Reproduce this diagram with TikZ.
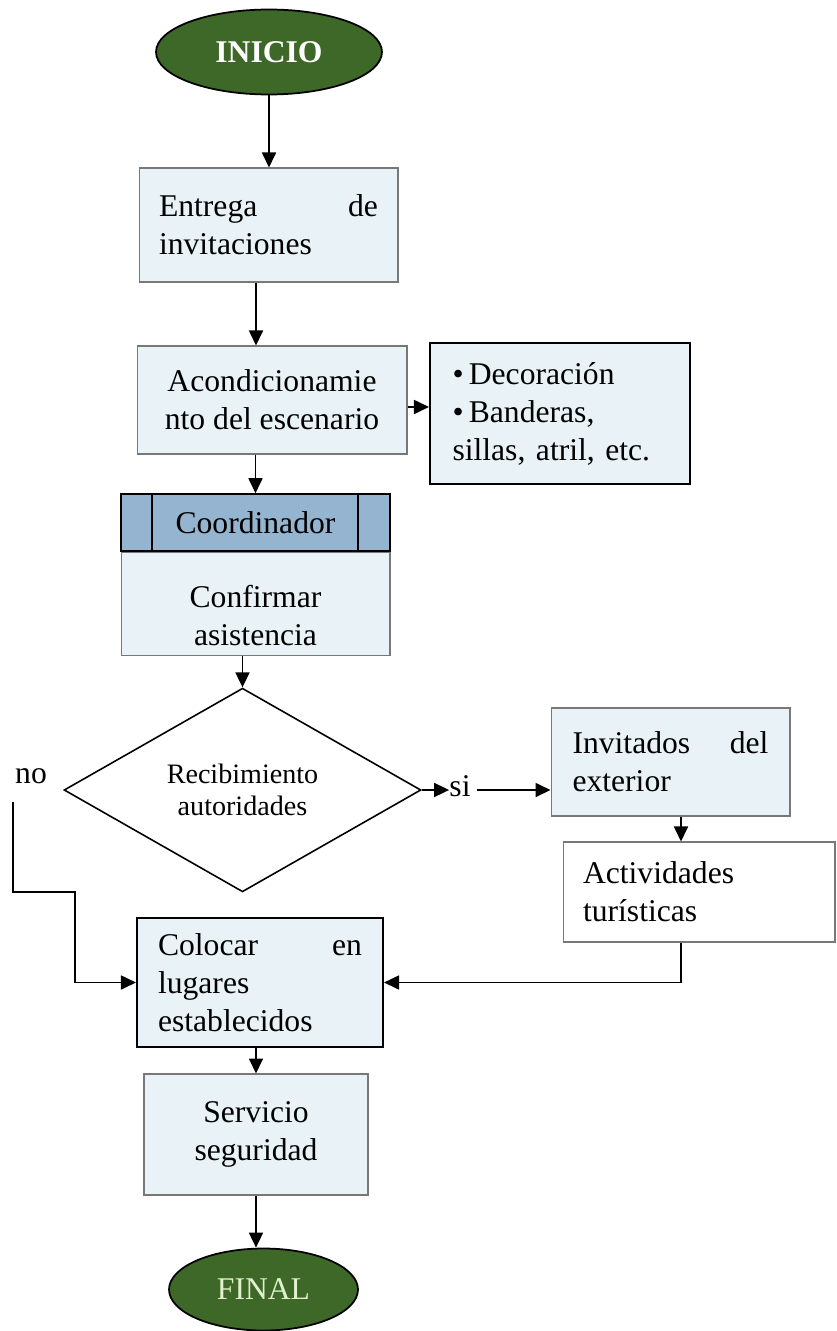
\documentclass[tikz,border=0pt]{standalone}
\usepackage{fontspec}
\setmainfont{Liberation Serif}
\usepackage{xcolor}
\usepackage{tikz}
\usetikzlibrary{positioning, shapes.geometric, arrows.meta}
\definecolor{fcGreen}{RGB}{62, 104, 40}
\definecolor{fcLight}{RGB}{233, 243, 247}
\definecolor{fcHead}{RGB}{148, 180, 207}
\definecolor{fcGray}{RGB}{120, 120, 120}
\definecolor{fcPale}{RGB}{225, 240, 205}
\newcommand{\fcgap}{\hskip 0pt plus 1filll}
\tikzset{
    base/.style={
        font=\fontsize{18}{21.6}\selectfont,
        align=center,
        inner sep=0pt
    },
    process/.style={
        base,
        rectangle,
        draw=fcGray,
        line width=0.6pt,
        fill=fcLight
    },
    strong/.style={
        process,
        draw=black,
        line width=1.2pt
    },
    terminal/.style={
        base,
        ellipse,
        draw=black,
        line width=1pt,
        fill=fcGreen,
        text=white
    },
    decision/.style={
        base,
        diamond,
        draw=black,
        line width=0.9pt,
        font=\fontsize{16}{18.5}\selectfont
    },
    flow/.style={
        -{Triangle[length=0.3cm, width=0.28cm]},
        line width=1pt,
        color=black
    },
    tag/.style={
        base
    }
}

\begin{document}
\begin{tikzpicture}[x=0.02cm, y=-0.02cm]
  \useasboundingbox (0,0) rectangle (836,1331);

  % Terminals
  \node[terminal, minimum width=4.52cm, minimum height=1.7cm, font=\bfseries\fontsize{18}{21.6}\selectfont] (inicio) at (269,52) {INICIO};
  \node[terminal, minimum width=3.78cm, minimum height=1.64cm, text=fcPale] (final) at (263.5,1289.5) {FINAL};

  % Main column
  \node[process, minimum width=5.18cm, minimum height=2.28cm, text width=4.38cm, align=left] (entrega) at (268.5,225) {Entrega\fcgap de\\invitaciones};
  \node[process, minimum width=5.4cm, minimum height=2.16cm] (acond) at (272,400) {Acondicionamie\\nto del escenario};
  \node[strong, minimum width=5.2cm, minimum height=2.82cm, text width=4.3cm, align=left] (deco) at (560,413.5) {\textbullet\,Decoración\\\textbullet\,Banderas,\\sillas, atril, etc.};

  % Coordinator
  \node[process, draw=black, line width=0.9pt, fill=fcHead, minimum width=5.38cm, minimum height=1.14cm] (coordhead) at (255.5,522.5) {Coordinador};
  \node[process, minimum width=5.38cm, minimum height=2.06cm, anchor=north] (confirmar) at (coordhead.south) {\rule{0pt}{0.9cm}Confirmar\\asistencia};
  \draw[line width=0.9pt] ([xshift=0.64cm]coordhead.north west) -- ([xshift=0.64cm]coordhead.south west);
  \draw[line width=0.9pt] ([xshift=-0.66cm]coordhead.north east) -- ([xshift=-0.66cm]coordhead.south east);

  % Decision
  \node[decision, minimum width=7.14cm, minimum height=3.62cm] (recib) at (242.5,790) {Recibimiento\\autoridades};
  \node[tag] (no) at (31,776) {no};
  \node[tag] (si) at (460,786) {si};

  % Branches
  \node[process, minimum width=4.78cm, minimum height=2.16cm, text width=3.92cm, align=left] (invit) at (670.5,762) {Invitados\fcgap del\\exterior};
  \node[process, fill=white, minimum width=5.44cm, minimum height=2.0cm, text width=4.64cm, align=left] (activ) at (699,892) {Actividades\\turísticas};
  \node[strong, minimum width=4.92cm, minimum height=2.58cm, text width=4.08cm, align=left] (colocar) at (260,982.5) {Colocar\fcgap en\\lugares\\establecidos};
  \node[process, minimum width=4.48cm, minimum height=2.42cm] (servicio) at (256,1134.5) {Servicio\\seguridad};

  \coordinate (nostart) at (13,802);
  \coordinate (nobend) at (75,892);

  % Connections
  \draw[flow] (inicio.south) -- (inicio.south |- entrega.north);
  \draw[flow] ([xshift=-0.25cm]entrega.south) -- ([xshift=-0.25cm]entrega.south |- acond.north);
  \draw[flow] ([yshift=-0.14cm]acond.east) -- ([yshift=-0.14cm]acond.east -| deco.west);
  \draw[flow] (coordhead.north |- acond.south) -- (coordhead.north);
  \draw[flow] (recib.north |- confirmar.south) -- (recib.north);
  \draw[flow] (recib.east) -- (recib.east -| si.west);
  \draw[flow] ([xshift=0.12cm]si.east |- recib.east) -- (recib.east -| invit.west);
  \draw[flow] ([xshift=0.21cm]invit.south) -- ([xshift=0.21cm]invit.south |- activ.north);
  \draw[flow] (nostart) |- (nobend) |- (colocar.west);
  \draw[flow] ([xshift=-0.36cm]activ.south) |- (colocar.east);
  \draw[flow] (servicio.north |- colocar.south) -- (servicio.north);
  \draw[flow] (servicio.south) -- (servicio.south |- final.north);
\end{tikzpicture}
\end{document}
